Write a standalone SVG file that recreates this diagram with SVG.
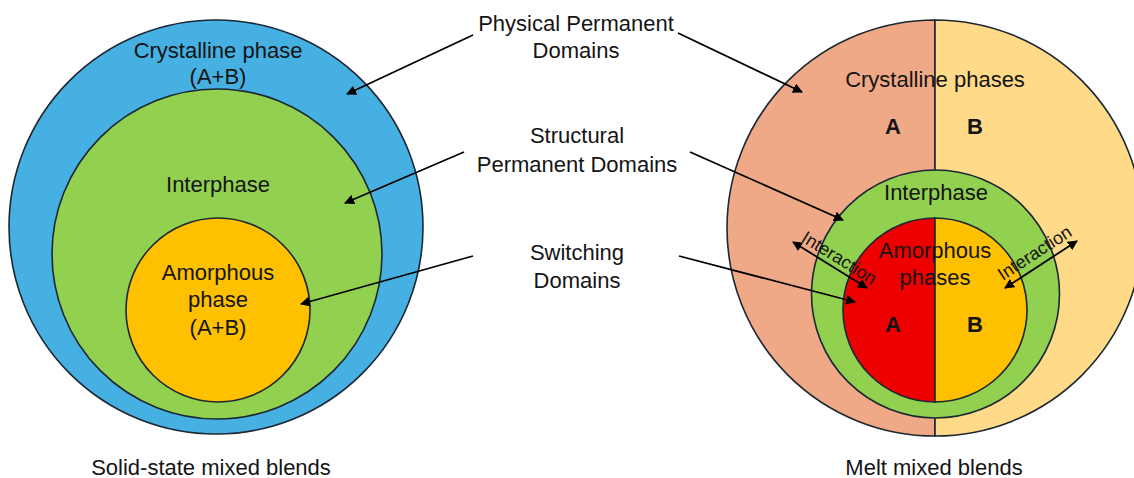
<svg xmlns="http://www.w3.org/2000/svg" width="1134" height="478" viewBox="0 0 1134 478">
<style>
.c{stroke:#1b2733;stroke-width:1.6}
.t{font-family:"Liberation Sans",Arial,sans-serif;font-size:22px;fill:#141414;text-anchor:middle}
.b{font-family:"Liberation Sans",Arial,sans-serif;font-size:22px;font-weight:bold;fill:#141414;text-anchor:middle}
.s{font-family:"Liberation Sans",Arial,sans-serif;font-size:18px;fill:#141414;text-anchor:middle}
.a{stroke:#000;stroke-width:1.8;fill:none}
</style>
<defs>
<marker id="ah2" viewBox="0 0 10 10" refX="9" refY="5" markerWidth="10" markerHeight="10" orient="auto-start-reverse" markerUnits="userSpaceOnUse">
<path d="M0,0 L10,5 L0,10 z" fill="#000"/>
</marker>
</defs>
<rect width="1134" height="478" fill="#fff"/>

<g id="solid-state">
<circle class="c" cx="216" cy="227" r="207" fill="#45B0E1"/>
<circle class="c" cx="217" cy="254" r="165" fill="#92D050"/>
<circle class="c" cx="218" cy="310" r="92" fill="#FFC000"/>
<text class="t" x="218" y="58">Crystalline phase</text>
<text class="t" x="218" y="84">(A+B)</text>
<text class="t" x="218" y="192">Interphase</text>
<text class="t" x="218" y="280">Amorphous</text>
<text class="t" x="218" y="307">phase</text>
<text class="t" x="218" y="335">(A+B)</text>
<text class="t" x="211" y="475">Solid-state mixed blends</text>
</g>

<g id="melt">
<path class="c" d="M935,20 A208,208 0 0 0 935,436 Z" fill="#F0A986"/>
<path class="c" d="M935,20 A208,208 0 0 1 935,436 Z" fill="#FFDA88"/>
<circle class="c" cx="935.5" cy="294" r="124" fill="#92D050"/>
<path class="c" d="M935,218 A92,92 0 0 0 935,402 Z" fill="#EE0000"/>
<path class="c" d="M935,218 A92,92 0 0 1 935,402 Z" fill="#FFC000"/>
<text class="t" x="935" y="87">Crystalline phases</text>
<text class="b" x="893" y="134">A</text>
<text class="b" x="975" y="134">B</text>
<text class="t" x="936" y="200">Interphase</text>
<text class="t" x="935" y="258">Amorphous</text>
<text class="t" x="935" y="285">phases</text>
<text class="b" x="893" y="332">A</text>
<text class="b" x="975" y="332">B</text>
<text class="t" x="934" y="475">Melt mixed blends</text>
<text class="s" transform="translate(836,263) rotate(32)">Interaction</text>
<text class="s" transform="translate(1038,258) rotate(-33)">Interaction</text>
</g>

<g id="labels">
<text class="t" x="576" y="31">Physical Permanent</text>
<text class="t" x="576" y="58">Domains</text>
<text class="t" x="577" y="143">Structural</text>
<text class="t" x="577" y="172">Permanent Domains</text>
<text class="t" x="577" y="260">Switching</text>
<text class="t" x="577" y="288">Domains</text>
</g>

<g id="connectors">
<line class="a" x1="473" y1="35" x2="347" y2="94" marker-end="url(#ah2)"/>
<line class="a" x1="464" y1="152" x2="345" y2="203" marker-end="url(#ah2)"/>
<line class="a" x1="473" y1="256" x2="301" y2="304" marker-end="url(#ah2)"/>
<line class="a" x1="678" y1="33" x2="802" y2="92" marker-end="url(#ah2)"/>
<line class="a" x1="690" y1="152" x2="843" y2="220" marker-end="url(#ah2)"/>
<line class="a" x1="679" y1="256" x2="855" y2="302" marker-end="url(#ah2)"/>
<line class="a" x1="793" y1="242" x2="867" y2="288" marker-start="url(#ah2)" marker-end="url(#ah2)"/>
<line class="a" x1="1005" y1="288" x2="1077" y2="241" marker-start="url(#ah2)" marker-end="url(#ah2)"/>
</g>
</svg>
